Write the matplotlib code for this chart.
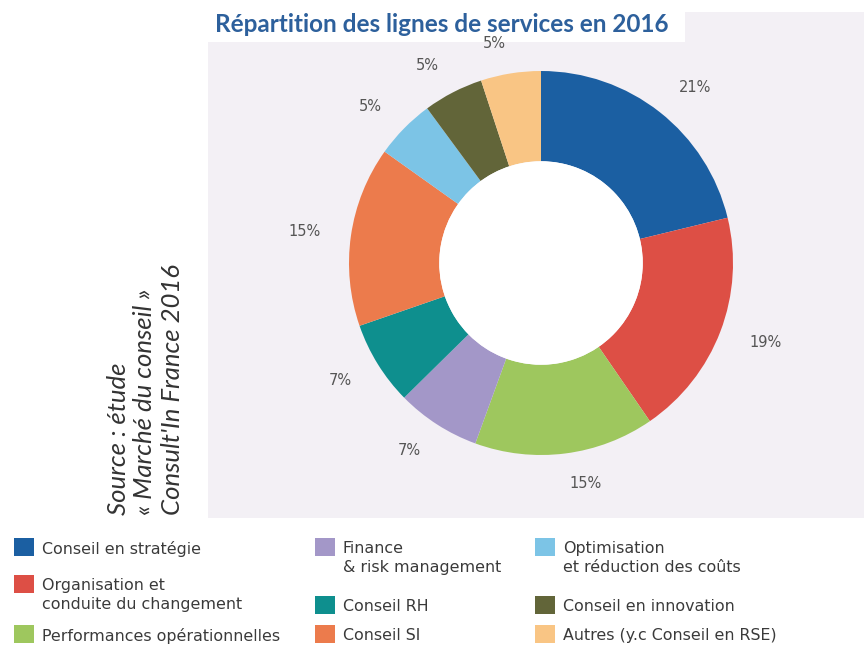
import matplotlib.pyplot as plt
from matplotlib.patches import Rectangle, Circle

W, H = 864, 653

categories = [
    'Conseil en stratégie',
    'Organisation et\nconduite du changement',
    'Performances opérationnelles',
    'Finance\n& risk management',
    'Conseil RH',
    'Conseil SI',
    'Optimisation\net réduction des coûts',
    'Conseil en innovation',
    'Autres (y.c Conseil en RSE)',
]
values = [21, 19, 15, 7, 7, 15, 5, 5, 5]
labels = ['21%', '19%', '15%', '7%', '7%', '15%', '5%', '5%', '5%']
colors = ['#1b5fa2', '#dd4f45', '#9ec75e', '#a397c8', '#0e8f8e',
          '#ec7b4c', '#7cc4e6', '#626539', '#f9c584']

# legend order: column by column
legend_columns = [[0, 1, 2], [3, 4, 5], [6, 7, 8]]


def px(x, y):
    # pixel coords (top-left origin) to figure fraction
    return x / W, 1 - y / H


fig = plt.figure(figsize=(W / 100, H / 100), dpi=100)
fig.patch.set_facecolor('white')

# light panel behind the chart
fig.patches.append(Rectangle(px(208, 518), (864 - 208) / W, (518 - 12) / H,
                             transform=fig.transFigure, facecolor='#f3f0f5',
                             edgecolor='none', zorder=0))
fig.patches.append(Rectangle(px(208, 42), (685 - 208) / W, 30 / H,
                             transform=fig.transFigure, facecolor='white',
                             edgecolor='none', zorder=0))

fig.text(*px(215, 25), 'Répartition des lignes de services en 2016',
         fontsize=17.5, fontweight='bold', color='#2d609c', va='center',
         family=['Lato', 'DejaVu Sans'], zorder=3)

# donut
cx, cy, r = 541, 263, 192
lim = 1.3
side = 2 * lim * r
ax = fig.add_axes([(cx - side / 2) / W, 1 - (cy + side / 2) / H, side / W, side / H])
ax.set_zorder(2)
ax.patch.set_visible(False)
ax.axis('off')

wedges, texts = ax.pie(values, labels=labels, colors=colors, startangle=90,
                       counterclock=False, radius=1, labeldistance=1.16,
                       wedgeprops=dict(width=0.47, linewidth=0),
                       textprops=dict(fontsize=10.5, color='#555555',
                                      family=['Liberation Sans Narrow', 'DejaVu Sans']))
ax.add_patch(Circle((0, 0), 0.53, facecolor='white', edgecolor='none'))
ax.set_xlim(-lim, lim)
ax.set_ylim(-lim, lim)
ax.set_aspect('equal')

# source note, rotated
source_lines = ['Source : étude', '« Marché du conseil »', "Consult'In France 2016"]
for i, line in enumerate(source_lines):
    fig.text(*px(118 + i * 27, 515), line, rotation=90, fontsize=18.5,
             style='italic', color='#333333', ha='center', va='bottom',
             family=['Lato', 'DejaVu Sans'])

# legend
col_x = [14, 315, 535]
for c, idxs in enumerate(legend_columns):
    for r_i, k in enumerate(idxs):
        name = categories[k]
        if r_i == 0:
            sq_y = 538
        elif r_i == 1:
            sq_y = 575 if c == 0 else 596
        else:
            sq_y = 625
        fig.patches.append(Rectangle(px(col_x[c], sq_y + 18), 20 / W, 18 / H,
                                     transform=fig.transFigure,
                                     facecolor=colors[k], edgecolor='none'))
        fig.text(*px(col_x[c] + 28, sq_y + 3), name, fontsize=11.4,
                 color='#3a3a3a', va='top', linespacing=1.35,
                 family=['Liberation Sans Narrow', 'DejaVu Sans'])

fig.savefig('out.png', dpi=100)
